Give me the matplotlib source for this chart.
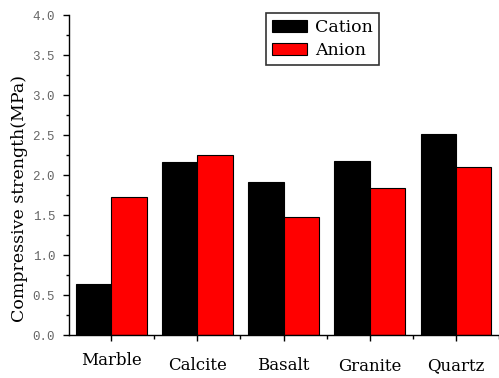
import matplotlib
matplotlib.use("Agg")
import matplotlib.pyplot as plt
import matplotlib.transforms as mtrans
import numpy as np
from matplotlib.ticker import MultipleLocator

categories = ["Marble", "Calcite", "Basalt", "Granite", "Quartz"]
cation = [0.64, 2.16, 1.91, 2.18, 2.51]
anion = [1.73, 2.25, 1.47, 1.84, 2.10]
yticks = [0.0, 0.5, 1.0, 1.5, 2.0, 2.5, 3.0, 3.5, 4.0]

plt.rcParams['font.family'] = ['DejaVu Serif', 'DejaVu Sans']

fig = plt.figure(figsize=(4.99, 3.78), dpi=100)
ax = fig.add_axes([69/499, 43/378, 1 - 69/499, (335-15)/378])

x = np.arange(len(categories))
w = 0.41
b1 = ax.bar(x - w/2, cation, w, color='black', edgecolor='black', linewidth=0.8, label='Cation')
b2 = ax.bar(x + w/2, anion, w, color='#ff0000', edgecolor='black', linewidth=0.8, label='Anion')

ax.set_ylim(0, 4.0)
ax.set_xlim(-0.49, 4.46)
ax.set_yticks(yticks)
ax.set_yticklabels([f"{v:.1f}" for v in yticks], family='Liberation Mono')
ax.yaxis.set_minor_locator(MultipleLocator(0.25))
ax.set_xticks(x)
ax.set_xticklabels(categories)
ax.set_xticks(x + 0.5, minor=True)

ax.spines['top'].set_visible(False)
ax.spines['right'].set_visible(False)
ax.spines['left'].set_linewidth(1.0)
ax.spines['bottom'].set_linewidth(1.0)
ax.tick_params(axis='y', which='major', direction='out', length=4.5, width=1, labelsize=9, labelcolor='#666666', pad=5.5)
ax.tick_params(axis='y', which='minor', direction='out', length=2, width=1)
ax.tick_params(axis='x', which='major', direction='out', length=4, width=1, labelsize=12, pad=12)
ax.tick_params(axis='x', which='minor', direction='out', length=3, width=1)

# per-label vertical offsets (pixels) as in the original rendering
offsets = [5, 0, 0, -1, 0]
for lab, dy in zip(ax.get_xticklabels(), offsets):
    lab.set_transform(lab.get_transform() + mtrans.ScaledTranslation(0, dy/100, fig.dpi_scale_trans))

ax.set_ylabel("Compressive strength(MPa)", fontsize=12.5)
ax.yaxis.set_label_coords((28 - 69) / 430, (335 - 199) / 320)

leg = fig.legend(handles=[b1, b2], loc='upper left', bbox_to_anchor=(266/499, 1 - 13/378),
                 fontsize=12.5, frameon=True, fancybox=False, edgecolor='black',
                 borderpad=0.35, labelspacing=0.35, handlelength=2.0, handleheight=0.7,
                 handletextpad=0.5, borderaxespad=0)
leg.get_frame().set_linewidth(1.2)

fig.savefig("out.png", dpi=100)
